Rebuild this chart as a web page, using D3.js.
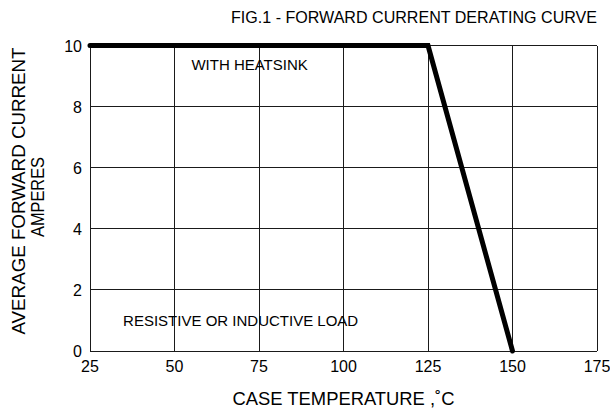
<!DOCTYPE html>
<html><head><meta charset="utf-8">
<script src="https://cdn.jsdelivr.net/npm/d3@7"></script>
<style>body{margin:0;background:#fff}svg{display:block}text{font-family:Arial,"Liberation Sans",sans-serif;fill:#000}</style>
</head><body>
<svg id="c" width="610" height="412"></svg>
<script>
const xTicks = [25, 50, 75, 100, 125, 150, 175];
const yTicks = [0, 2, 4, 6, 8, 10];
const curveTemp = [25, 125, 150];
const curveCurrent = [10, 10, 0];
const title = "FIG.1 - FORWARD CURRENT DERATING CURVE";
const xLabel = "CASE TEMPERATURE ,˚C";
const yLabel1 = "AVERAGE FORWARD CURRENT";
const yLabel2 = "AMPERES";
const noteText = ["WITH HEATSINK", "RESISTIVE OR INDUCTIVE LOAD"];
const noteTemp = [55, 34.8];
const noteCurrent = [9.2, 0.82];

const svg = d3.select("#c");
const m = {l: 90, r: 597, t: 45.5, b: 351};
const x = d3.scaleLinear().domain([25, 175]).range([m.l, m.r]);
const y = d3.scaleLinear().domain([0, 10]).range([m.b, m.t]);

const g = svg.append("g");
g.selectAll(".vg").data(xTicks).enter().append("line")
  .attr("x1", d => x(d)).attr("x2", d => x(d)).attr("y1", m.t).attr("y2", m.b)
  .attr("stroke", "#1a1a1a").attr("stroke-width", 1).attr("shape-rendering", "crispEdges");
g.selectAll(".hg").data(yTicks).enter().append("line")
  .attr("y1", d => y(d)).attr("y2", d => y(d)).attr("x1", m.l).attr("x2", m.r)
  .attr("stroke", "#1a1a1a").attr("stroke-width", 1).attr("shape-rendering", "crispEdges");

g.selectAll(".xt").data(xTicks).enter().append("text")
  .attr("x", d => x(d)).attr("y", 372).attr("text-anchor", "middle")
  .attr("font-size", 16).text(d => d);
g.selectAll(".yt").data(yTicks).enter().append("text")
  .attr("x", 82).attr("y", d => y(d) + 6).attr("text-anchor", "end")
  .attr("font-size", 16).text(d => d);

const line = d3.line().x(d => x(d[0])).y(d => y(d[1]));
g.append("path").datum(curveTemp.map((t, i) => [t, curveCurrent[i]]))
  .attr("d", line).attr("fill", "none").attr("stroke", "#000")
  .attr("stroke-width", 5).attr("stroke-linejoin", "miter").attr("stroke-linecap", "round");

g.selectAll(".nt").data(noteText).enter().append("text")
  .attr("x", (d, i) => x(noteTemp[i])).attr("y", (d, i) => y(noteCurrent[i]))
  .attr("font-size", 15).text(d => d);

svg.append("text").attr("x", 414).attr("y", 23).attr("text-anchor", "middle")
  .attr("font-size", 16).attr("textLength", 366).attr("lengthAdjust", "spacingAndGlyphs").text(title);
svg.append("text").attr("x", 343.5).attr("y", 405).attr("text-anchor", "middle")
  .attr("font-size", 18).attr("textLength", 222).attr("lengthAdjust", "spacingAndGlyphs").text(xLabel);
svg.append("text").attr("transform", "translate(24.5,191) rotate(-90)").attr("text-anchor", "middle")
  .attr("font-size", 19).attr("textLength", 287).attr("lengthAdjust", "spacingAndGlyphs").text(yLabel1);
svg.append("text").attr("transform", "translate(43.5,197) rotate(-90)").attr("text-anchor", "middle")
  .attr("font-size", 18).attr("textLength", 80).attr("lengthAdjust", "spacingAndGlyphs").text(yLabel2);
</script>
</body></html>
